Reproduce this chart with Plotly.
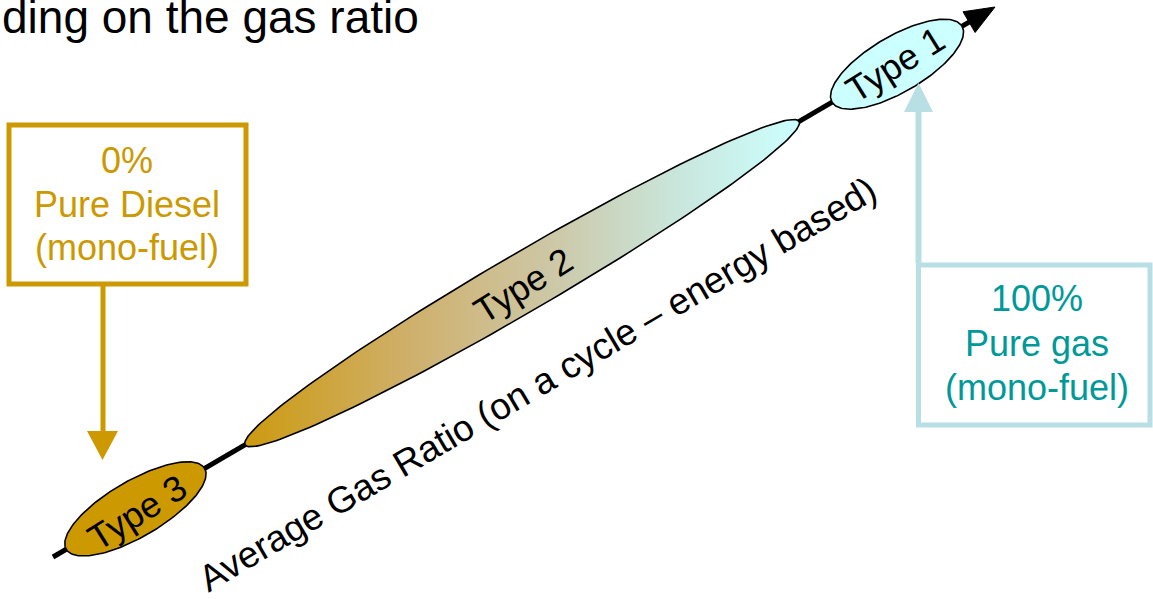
import numpy as np
import plotly.graph_objects as go

# ---------------- data ----------------
TITLE = "ding on the gas ratio"
AXIS_LABEL = "Average Gas Ratio (on a cycle – energy based)"
TYPE_LABELS = ["Type 3", "Type 2", "Type 1"]
# span of each engine type along the gas-ratio axis (fraction of axis length)
TYPE_START = [0.014, 0.204, 0.827]
TYPE_END = [0.161, 0.792, 0.965]
END_RATIOS = ["0%", "100%"]
END_FUELS = ["Pure Diesel", "Pure gas"]
END_NOTES = ["(mono-fuel)", "(mono-fuel)"]

# ---------------- layout / style ----------------
W, H = 1153, 599
FONT = "Liberation Sans, Arial, sans-serif"
GOLD = "#CC9900"
TEAL = "#009999"
PALE = "#B8DFE3"
AX0 = np.array([53.0, 557.0])     # axis start (px)
AX1 = np.array([995.0, 7.0])      # arrow tip (px)
vec = AX1 - AX0
L = np.hypot(*vec)
u = vec / L
n = np.array([u[1], -u[0]]) * -1  # perpendicular
HALF_MINOR = [28, 29, 28]
FILLS = [GOLD, None, "#CCFFFF"]


def along(t):
    return AX0 + t * vec


fig = go.Figure()

# axis line
base = AX1 - 30 * u
fig.add_trace(go.Scatter(x=[AX0[0], base[0]], y=[AX0[1], base[1]], mode="lines",
                         line=dict(color="black", width=5), hoverinfo="skip", showlegend=False))
# arrow head
c1 = base + 12 * n
c2 = base - 12 * n
fig.add_trace(go.Scatter(x=[AX1[0], c1[0], c2[0], AX1[0]], y=[AX1[1], c1[1], c2[1], AX1[1]],
                         mode="lines", fill="toself", fillcolor="black",
                         line=dict(color="black", width=1), hoverinfo="skip", showlegend=False))

# ellipses
s = np.linspace(0, 2 * np.pi, 200)
for i, lab in enumerate(TYPE_LABELS):
    a0, a1 = along(TYPE_START[i]), along(TYPE_END[i])
    c = (a0 + a1) / 2
    a = np.hypot(*(a1 - a0)) / 2
    b = HALF_MINOR[i]
    pts = c[None, :] + np.outer(a * np.cos(s), u) + np.outer(b * np.sin(s), n)
    kw = dict(x=pts[:, 0], y=pts[:, 1], mode="lines", fill="toself",
              line=dict(color="black", width=1.6), hoverinfo="skip", showlegend=False)
    if FILLS[i] is None:
        kw["fillgradient"] = dict(type="horizontal", colorscale=[
            [0.0, "#CC9A10"], [0.3, "#CFB06C"], [0.55, "#CDC7A6"],
            [0.78, "#C9E6DC"], [1.0, "#CCFFFF"]])
    else:
        kw["fillcolor"] = FILLS[i]
    fig.add_trace(go.Scatter(**kw))

shapes = []
annotations = []

# left box (0 %)
shapes.append(dict(type="rect", x0=9, x1=246, y0=125, y1=284, line=dict(color=GOLD, width=5),
                   fillcolor="rgba(0,0,0,0)"))
shapes.append(dict(type="line", x0=103, x1=103, y0=286, y1=433, line=dict(color=GOLD, width=5)))
shapes.append(dict(type="path", path="M 87 431 L 118 431 L 102.5 460 Z", fillcolor=GOLD,
                   line=dict(color=GOLD, width=0)))
# right box (100 %)
shapes.append(dict(type="rect", x0=918.5, x1=1150, y0=265, y1=425, line=dict(color=PALE, width=5),
                   fillcolor="rgba(0,0,0,0)"))
shapes.append(dict(type="line", x0=918.5, x1=918.5, y0=263, y1=110, line=dict(color=PALE, width=6)))
shapes.append(dict(type="path", path="M 904 112 L 933 112 L 918.5 83 Z", fillcolor=PALE,
                   line=dict(color=PALE, width=0)))

box_centers = [(127, [160, 204, 247]), (1037, [298, 343, 387])]
box_colors = [GOLD, TEAL]
for k in range(2):
    cx, ys = box_centers[k]
    for txt, yy in zip([END_RATIOS[k], END_FUELS[k], END_NOTES[k]], ys):
        annotations.append(dict(x=cx, y=yy, text=txt, showarrow=False, xanchor="center",
                                yanchor="middle", font=dict(family=FONT, size=36, color=box_colors[k])))

# type labels
label_pos = [(137, 512), (523, 285), (895, 64)]
for lab, (xx, yy) in zip(TYPE_LABELS, label_pos):
    annotations.append(dict(x=xx, y=yy, text=lab, showarrow=False, textangle=-32,
                            xanchor="center", yanchor="middle",
                            font=dict(family=FONT, size=36, color="black")))

# axis label
annotations.append(dict(x=537, y=384, text=AXIS_LABEL, showarrow=False, textangle=-30.5,
                        xanchor="center", yanchor="middle",
                        font=dict(family=FONT, size=37, color="black")))
# title fragment
annotations.append(dict(xref="paper", x=0, y=17, text=TITLE, showarrow=False, xanchor="left",
                        yanchor="middle", font=dict(family=FONT, size=46, color="black")))

fig.update_layout(
    width=W, height=H, margin=dict(l=0, r=0, t=0, b=0),
    paper_bgcolor="white", plot_bgcolor="white",
    xaxis=dict(range=[0, W], visible=False, fixedrange=True),
    yaxis=dict(range=[H, 0], visible=False, fixedrange=True),
    shapes=shapes, annotations=annotations, showlegend=False,
)

fig.write_html("out.html", post_script="document.body.style.margin='0';",
               config={"displayModeBar": False})
